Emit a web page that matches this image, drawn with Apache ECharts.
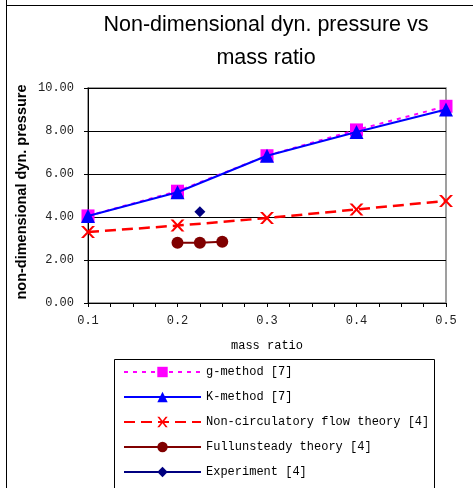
<!DOCTYPE html>
<html><head><meta charset="utf-8">
<script src="https://cdn.jsdelivr.net/npm/echarts@6/dist/echarts.min.js"></script>
<style>html,body{margin:0;padding:0;background:#fff}#c{width:476px;height:488px}</style>
</head><body><div id="c"></div>
<script>
var xTicks = [0.1, 0.2, 0.3, 0.4, 0.5];
var yTicks = [0, 2, 4, 6, 8, 10];
var massRatio = [0.1, 0.2, 0.3, 0.4, 0.5];
var gMethod = [4.05, 5.2, 6.85, 8.05, 9.15];
var kMethod = [4.05, 5.15, 6.85, 7.95, 9.0];
var nonCirc = [3.3, 3.6, 3.95, 4.35, 4.75];
var fullX = [0.2, 0.225, 0.25];
var fullY = [2.8, 2.8, 2.85];
var expX = [0.225];
var expY = [4.25];
var names = ['g-method [7]', 'K-method [7]', 'Non-circulatory flow theory [4]', 'Fullunsteady theory [4]', 'Experiment [4]'];

function pairs(xs, ys) { return xs.map(function (x, i) { return [x, ys[i]]; }); }
function isMajor(v) { return xTicks.some(function (t) { return Math.abs(t - v) < 1e-6; }); }

var chart = echarts.init(document.getElementById('c'), null, { renderer: 'canvas' });
var mono = 'Liberation Mono';
chart.setOption({
  animation: false,
  backgroundColor: '#fff',
  title: {
    text: 'Non-dimensional dyn. pressure vs\nmass ratio',
    left: 261, top: 4, textAlign: 'center',
    textStyle: { fontFamily: 'Liberation Sans', fontSize: 21.5, fontWeight: 'normal', color: '#000', lineHeight: 33 }
  },
  graphic: [
    { type: 'line', shape: { x1: 6.5, y1: 0, x2: 6.5, y2: 488 }, style: { stroke: '#000', lineWidth: 1 } },
    { type: 'line', shape: { x1: 6, y1: 5.5, x2: 473, y2: 5.5 }, style: { stroke: '#000', lineWidth: 1 } },
    { type: 'rect', shape: { x: 114.5, y: 359.5, width: 320, height: 140 }, style: { fill: 'none', stroke: '#000', lineWidth: 1 }, z: 0 },
    { type: 'text', x: 22, y: 192, rotation: Math.PI / 2,
      style: { text: 'non-dimensional dyn. pressure', fontFamily: 'Liberation Sans', fontWeight: 'bold', fontSize: 14.5, fill: '#000', align: 'center', verticalAlign: 'middle' } }
  ],
  grid: { left: 88, right: 30, top: 88, bottom: 185, show: true, borderColor: '#808080', borderWidth: 1.5, backgroundColor: 'transparent' },
  legend: {
    orient: 'vertical', left: 118, top: 361, itemWidth: 77, itemHeight: 13, itemGap: 13,
    data: names,
    textStyle: { fontFamily: mono, fontSize: 12, color: '#000' }
  },
  xAxis: {
    type: 'value', min: 0.1, max: 0.5, interval: 0.025,
    name: 'mass ratio', nameLocation: 'middle', nameGap: 37,
    nameTextStyle: { fontFamily: mono, fontSize: 12, color: '#000' },
    axisLine: { lineStyle: { color: '#000', width: 1 } },
    axisTick: { show: true, length: 4, lineStyle: { color: '#000' } },
    splitLine: { show: false },
    axisLabel: { margin: 12, fontFamily: mono, fontSize: 12, color: '#222', showMinLabel: true, showMaxLabel: true,
      formatter: function (v) { return isMajor(v) ? v.toFixed(1) : ''; } }
  },
  yAxis: {
    type: 'value', min: 0, max: 10, interval: 2,
    axisLine: { show: true, lineStyle: { color: '#000', width: 1 } },
    axisTick: { show: true, length: 4, lineStyle: { color: '#000' } },
    splitLine: { show: true, lineStyle: { color: '#000', width: 1 } },
    axisLabel: { margin: 14, fontFamily: mono, fontSize: 12, color: '#222', formatter: function (v) { return v.toFixed(2); } }
  },
  series: [
    { name: names[0], type: 'line', data: pairs(massRatio, gMethod), symbol: 'rect', symbolSize: 13,
      itemStyle: { color: '#ff00ff' }, lineStyle: { color: '#ff00ff', width: 2, type: [4, 5] }, z: 2 },
    { name: names[1], type: 'line', data: pairs(massRatio, kMethod), symbol: 'triangle', symbolSize: 14,
      itemStyle: { color: '#0000ff' }, lineStyle: { color: '#0000ff', width: 2 }, z: 3 },
    { name: names[2], type: 'line', data: pairs(massRatio, nonCirc), symbol: 'path://M0,0L2,0L5,3L8,0L10,0L6,4L10,8L8,8L5,5L2,8L0,8L4,4Z', symbolSize: [14, 12],
      itemStyle: { color: '#ff0000' }, lineStyle: { color: '#ff0000', width: 2.5, type: [11, 6] }, z: 3 },
    { name: names[3], type: 'line', data: pairs(fullX, fullY), symbol: 'circle', symbolSize: 12,
      itemStyle: { color: '#800000' }, lineStyle: { color: '#800000', width: 2 }, z: 3 },
    { name: names[4], type: 'line', data: pairs(expX, expY), symbol: 'diamond', symbolSize: 11,
      itemStyle: { color: '#000080' }, lineStyle: { color: '#000080', width: 2 }, z: 3 }
  ]
});
</script></body></html>
